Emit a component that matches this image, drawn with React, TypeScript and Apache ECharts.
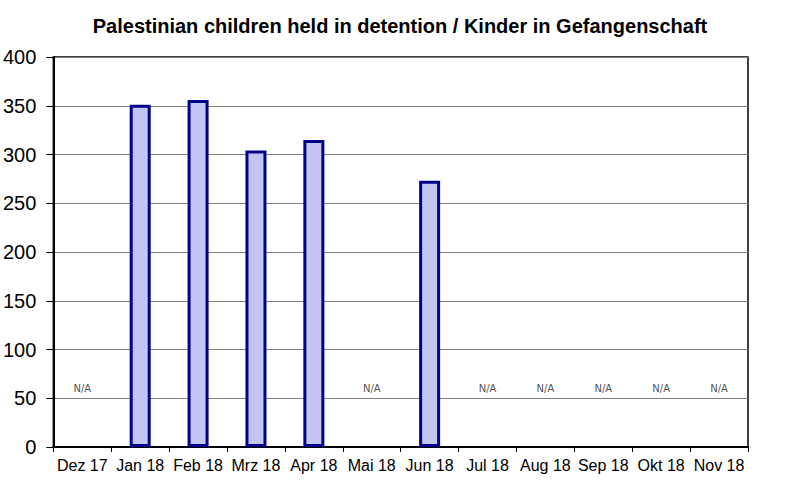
import React, { useEffect, useRef } from "react";
import * as echarts from "echarts";

const title = "Palestinian children held in detention / Kinder in Gefangenschaft";
const categories = ["Dez 17", "Jan 18", "Feb 18", "Mrz 18", "Apr 18", "Mai 18", "Jun 18", "Jul 18", "Aug 18", "Sep 18", "Okt 18", "Nov 18"];
const values: (number | null)[] = [null, 351, 356, 304, 315, null, 273, null, null, null, null, null];
const naLabel = "N/A";
const naLevel = 60;

export default function App() {
  const ref = useRef<HTMLDivElement>(null);
  useEffect(() => {
    if (!ref.current) return;
    const chart = echarts.init(ref.current, null, { renderer: "svg" });
    const naData = values.map((v) => (v === null ? naLevel : null));
    chart.setOption({
      animation: false,
      backgroundColor: "#ffffff",
      title: {
        text: title,
        left: "center",
        top: 11,
        textStyle: { fontFamily: "Liberation Sans", fontWeight: "bold", fontSize: 20, color: "#000" },
      },
      grid: { left: 52, right: 52, top: 57, bottom: 48, show: true, borderColor: "#000", borderWidth: 1.5, backgroundColor: "transparent" },
      xAxis: {
        type: "category",
        data: categories,
        axisLine: { lineStyle: { color: "#000", width: 2 } },
        axisTick: { show: true, length: 5, lineStyle: { color: "#000", width: 1 } },
        axisLabel: { interval: 0, fontFamily: "Liberation Sans", fontSize: 16, color: "#000", margin: 10 },
      },
      yAxis: {
        type: "value",
        min: 0,
        max: 400,
        interval: 50,
        axisLine: { show: true, lineStyle: { color: "#000", width: 2 } },
        axisTick: { show: true, length: 7, lineStyle: { color: "#000", width: 1 } },
        axisLabel: { fontFamily: "Liberation Sans", fontSize: 20, color: "#000", margin: 17 },
        splitLine: { lineStyle: { color: "#808080", width: 1 } },
      },
      series: [
        {
          type: "bar",
          data: values,
          barWidth: 21,
          itemStyle: { color: "#c4c4f2", borderColor: "#000088", borderWidth: 3 },
        },
        {
          type: "scatter",
          data: naData,
          symbolSize: 0,
          label: {
            show: true,
            position: "inside",
            formatter: naLabel,
            fontFamily: "DejaVu Sans",
            fontSize: 10,
            color: "#222",
          },
        },
      ],
    });
    return () => chart.dispose();
  }, []);
  return <div ref={ref} style={{ position: "fixed", left: 0, top: 0, width: 800, height: 495 }} />;
}
